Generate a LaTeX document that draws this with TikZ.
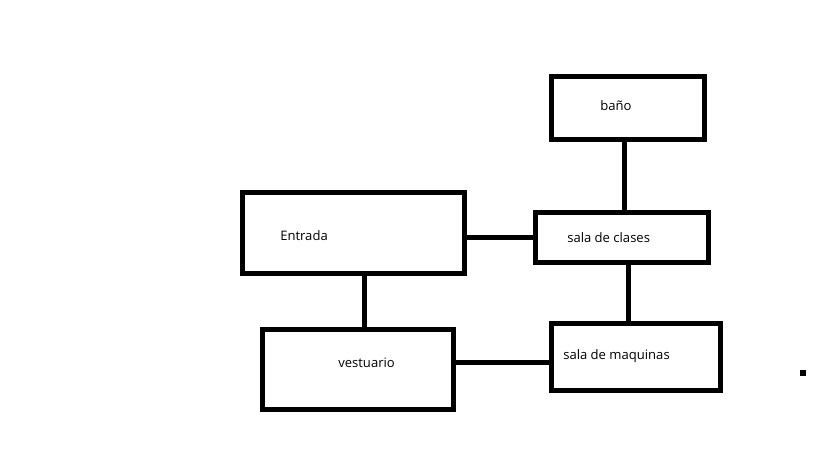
\documentclass[tikz,border=0pt]{standalone}
\usepackage{fontspec}
\setmainfont{Open Sans}
\begin{document}
\begin{tikzpicture}[x=0.75pt,y=-0.75pt,
  room/.style={draw=black,line width=3.75pt,fill=white,inner sep=0pt,outer sep=0pt},
  conn/.style={draw=black,line width=3.75pt},
  lbl/.style={anchor=west,inner sep=0pt,font=\fontsize{9.8pt}{11pt}\selectfont}]
\useasboundingbox (0,0) rectangle (819,460);
\node[room,minimum width=166.5pt,minimum height=60pt] (entrada) at (353,233) {};
\node[room,minimum width=143.25pt,minimum height=60pt] (vestuario) at (358,369.5) {};
\node[room,minimum width=114.75pt,minimum height=47.25pt] (bano) at (628,108) {};
\node[room,minimum width=129.75pt,minimum height=37.5pt] (clases) at (622,237.5) {};
\node[room,minimum width=126.75pt,minimum height=50.25pt] (maquinas) at (636,357) {};
\draw[conn] ([xshift=-2.5pt]bano.south) -- ([xshift=-2.5pt]bano.south |- clases.north);
\draw[conn] (clases.west) -- (clases.west -| entrada.east);
\draw[conn] ([xshift=4.7pt]clases.south) -- ([xshift=4.7pt]clases.south |- maquinas.north);
\draw[conn] ([xshift=8.8pt]entrada.south) -- ([xshift=8.8pt]entrada.south |- vestuario.north);
\draw[conn] ([yshift=5.1pt]vestuario.east) -- ([yshift=5.1pt]vestuario.east -| maquinas.west);
\node[lbl] (tentrada) at (280,236) {Entrada};
\node[lbl] (tvestuario) at (338,363) {vestuario};
\node[lbl] (tbano) at (600,106) {baño};
\node[lbl] (tclases) at (567,238) {sala de clases};
\node[lbl] (tmaquinas) at (563,356) {sala de maquinas};
\fill[black] (800,370) rectangle (806,376);
\end{tikzpicture}
\end{document}
